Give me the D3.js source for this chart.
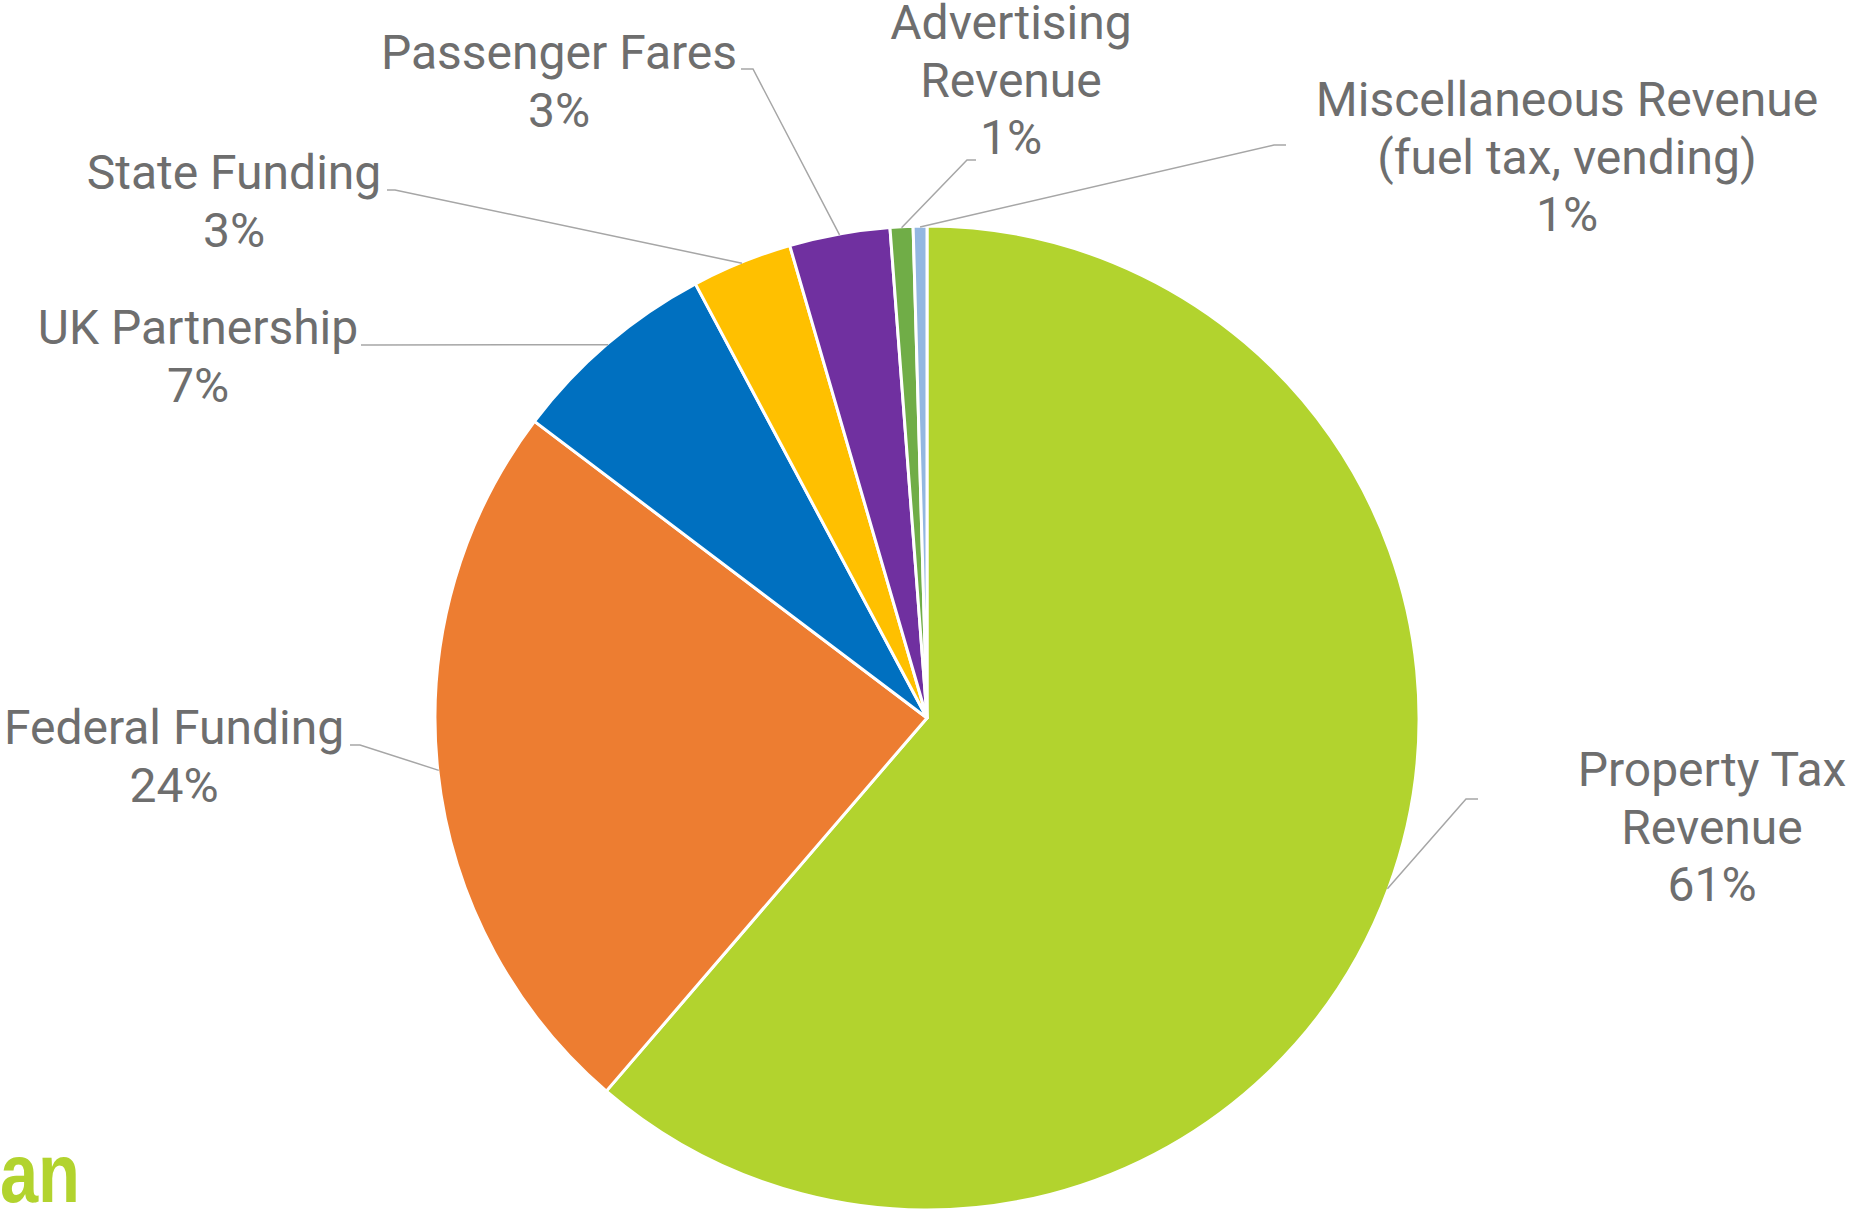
<!DOCTYPE html>
<html>
<head>
<meta charset="utf-8">
<script src="https://cdn.jsdelivr.net/npm/d3@7"></script>
<style>
  body { margin: 0; background: #fff; }
  svg { display: block; }
</style>
</head>
<body>
<div id="chart"></div>
<script>
// revenue sources, clockwise from 12 o'clock
var categories = ["Property Tax Revenue", "Federal Funding", "UK Partnership", "State Funding",
                  "Passenger Fares", "Advertising Revenue", "Miscellaneous Revenue (fuel tax, vending)"];
var shares = [61.3, 24.0, 6.9, 3.3, 3.3, 0.75, 0.45];
var pctLabels = ["61%", "24%", "7%", "3%", "3%", "1%", "1%"];
// how each category name is broken over lines
var nameLines = [["Property Tax", "Revenue"], ["Federal Funding"], ["UK Partnership"], ["State Funding"],
                 ["Passenger Fares"], ["Advertising", "Revenue"], ["Miscellaneous Revenue", "(fuel tax, vending)"]];
var colors = ["#b2d32e", "#ed7d31", "#0070c0", "#ffc000", "#7030a0", "#70ad47", "#93b7e1"];

// label placement (layout only): text centre x, first baseline y, leader elbow
var labelLayout = [
  {cx: 1712, y: 786, hx1: 1478, hx2: 1466, hy: 799},
  {cx: 174,  y: 744, hx1: 350,  hx2: 360,  hy: 745},
  {cx: 198,  y: 344, hx1: 361,  hx2: 373,  hy: 345},
  {cx: 234,  y: 189, hx1: 387,  hx2: 395,  hy: 190},
  {cx: 559,  y: 69,  hx1: 741,  hx2: 753,  hy: 69},
  {cx: 1011, y: 39,  hx1: 976,  hx2: 967,  hy: 160},
  {cx: 1567, y: 116, hx1: 1286, hx2: 1274, hy: 145}
];

var width = 1852, height = 1210;
var cx = 927, cy = 718, radius = 492;
var lineH = 57.6;

var svg = d3.select("#chart")
  .append("svg")
    .attr("width", width)
    .attr("height", height);

var data = categories.map(function(c, i) { return {name: c, value: shares[i], i: i}; });

var pie = d3.pie()
  .sort(null)
  .value(function(d) { return d.value; });

var arc = d3.arc().innerRadius(0).outerRadius(radius);
var edgeArc = d3.arc().innerRadius(radius - 1).outerRadius(radius - 1);

var arcs = pie(data);

var g = svg.append("g")
  .attr("transform", "translate(" + cx + "," + cy + ")");

g.selectAll(".slice")
    .data(arcs)
  .enter()
    .append("path")
    .attr("class", "slice")
    .attr("d", arc)
    .attr("fill", function(d) { return colors[d.data.i]; })
    .attr("stroke", "#fff")
    .attr("stroke-width", 3)
    .attr("stroke-linejoin", "round");

// leader lines: label elbow -> middle of slice on the rim
svg.selectAll(".leader")
    .data(arcs)
  .enter()
    .append("polyline")
    .attr("class", "leader")
    .attr("points", function(d) {
      var L = labelLayout[d.data.i];
      var p = edgeArc.centroid(d);
      return [[L.hx1, L.hy], [L.hx2, L.hy], [p[0] + cx, p[1] + cy]].join(" ");
    })
    .attr("fill", "none")
    .attr("stroke", "#a6a6a6")
    .attr("stroke-width", 1.5);

var labels = svg.selectAll(".label")
    .data(arcs)
  .enter()
    .append("text")
    .attr("class", "label")
    .attr("text-anchor", "middle")
    .attr("font-family", "Roboto, 'Noto Sans', sans-serif")
    .attr("font-size", 48)
    .attr("fill", "#6e6e6e");

labels.each(function(d) {
  var L = labelLayout[d.data.i];
  var lines = nameLines[d.data.i].concat([pctLabels[d.data.i]]);
  var t = d3.select(this);
  lines.forEach(function(s, k) {
    t.append("tspan")
      .attr("x", L.cx)
      .attr("y", L.y + k * lineH)
      .text(s);
  });
});

// cropped logo in the corner
svg.append("text")
  .attr("x", 0)
  .attr("y", 1202)
  .attr("font-family", "'Liberation Sans', Arial, sans-serif")
  .attr("font-weight", "bold")
  .attr("font-size", 84)
  .attr("textLength", 80)
  .attr("lengthAdjust", "spacingAndGlyphs")
  .attr("fill", "#b2d32e")
  .text("an");
</script>
</body>
</html>
